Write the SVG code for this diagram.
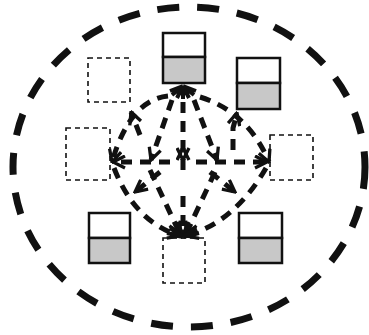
<svg xmlns="http://www.w3.org/2000/svg" width="369" height="335" viewBox="0 0 369 335">
<defs>
<style>
.solid{fill:#fff;stroke:#111;stroke-width:2.5}
.gray{fill:#c8c8c8;stroke:#111;stroke-width:2.5}
.dbox{fill:none;stroke:#111;stroke-width:1.6;stroke-dasharray:5 4}
.c{fill:none;stroke:#111;stroke-width:5;stroke-dasharray:11 8;marker-end:url(#ah)}
.fan{stroke:#111;stroke-width:4}
</style>
<marker id="ah" viewBox="0 0 10 10" refX="9" refY="5" markerWidth="3" markerHeight="3" orient="auto" markerUnits="strokeWidth">
<path d="M1,1 L9,5 L1,9" fill="none" stroke="#111" stroke-width="2.2"/>
</marker>
</defs>
<rect width="369" height="335" fill="#fff"/>
<ellipse id="boundary" cx="189" cy="167" rx="176" ry="160" fill="none" stroke="#111" stroke-width="7" stroke-dasharray="22 18"/>
<g id="node-top"><rect class="solid" x="163" y="33" width="42" height="24"/><rect class="gray" x="163" y="57" width="42" height="26"/></g>
<g id="node-top-right"><rect class="solid" x="237" y="58" width="43" height="25"/><rect class="gray" x="237" y="83" width="43" height="26"/></g>
<g id="node-bottom-left"><rect class="solid" x="89" y="213" width="41" height="25"/><rect class="gray" x="89" y="238" width="41" height="25"/></g>
<g id="node-bottom-right"><rect class="solid" x="239" y="213" width="43" height="25"/><rect class="gray" x="239" y="238" width="43" height="25"/></g>
<g id="node-top-left"><rect class="dbox" x="88" y="58" width="42" height="44"/></g>
<g id="node-left"><rect class="dbox" x="66" y="128" width="44" height="52"/></g>
<g id="node-right"><rect class="dbox" x="270" y="135" width="43" height="45"/></g>
<g id="node-bottom"><rect class="dbox" x="163" y="238" width="42" height="45"/></g>
<g id="connectors">
<path class="c" d="M168,96 Q130,100 112,162"/>
<path class="c" d="M140,135 L131,112"/>
<path class="c" d="M172,100 L151,160"/>
<path class="c" d="M183,102 L183,160"/>
<path class="c" d="M194,100 L217,160"/>
<path class="c" d="M200,97 Q248,112 269,162"/>
<path class="c" d="M233,150 L233,128 L237,113"/>
<path class="c" d="M170,162 L113,162"/>
<path class="c" d="M196,162 L267,162"/>
<path class="c" d="M183,170 L183,148"/>
<path class="c" d="M160,172 L135,192"/>
<path class="c" d="M210,172 L235,192"/>
<path class="c" d="M114,168 Q135,222 180,236"/>
<path class="c" d="M150,170 L180,234"/>
<path class="c" d="M183,196 L183,234"/>
<path class="c" d="M215,172 L186,234"/>
<path class="c" d="M266,168 Q235,222 186,236"/>
</g>
<g id="fans" class="fan">
<path d="M183,86 L170,91 M183,86 L172,95 M183,86 L177,98 M183,86 L183,99 M183,86 L189,98 M183,86 L194,95 M183,86 L196,91"/>
<path d="M183,237 L167,233 M183,237 L170,228 M183,237 L199,233 M183,237 L196,228"/>
</g>
</svg>
